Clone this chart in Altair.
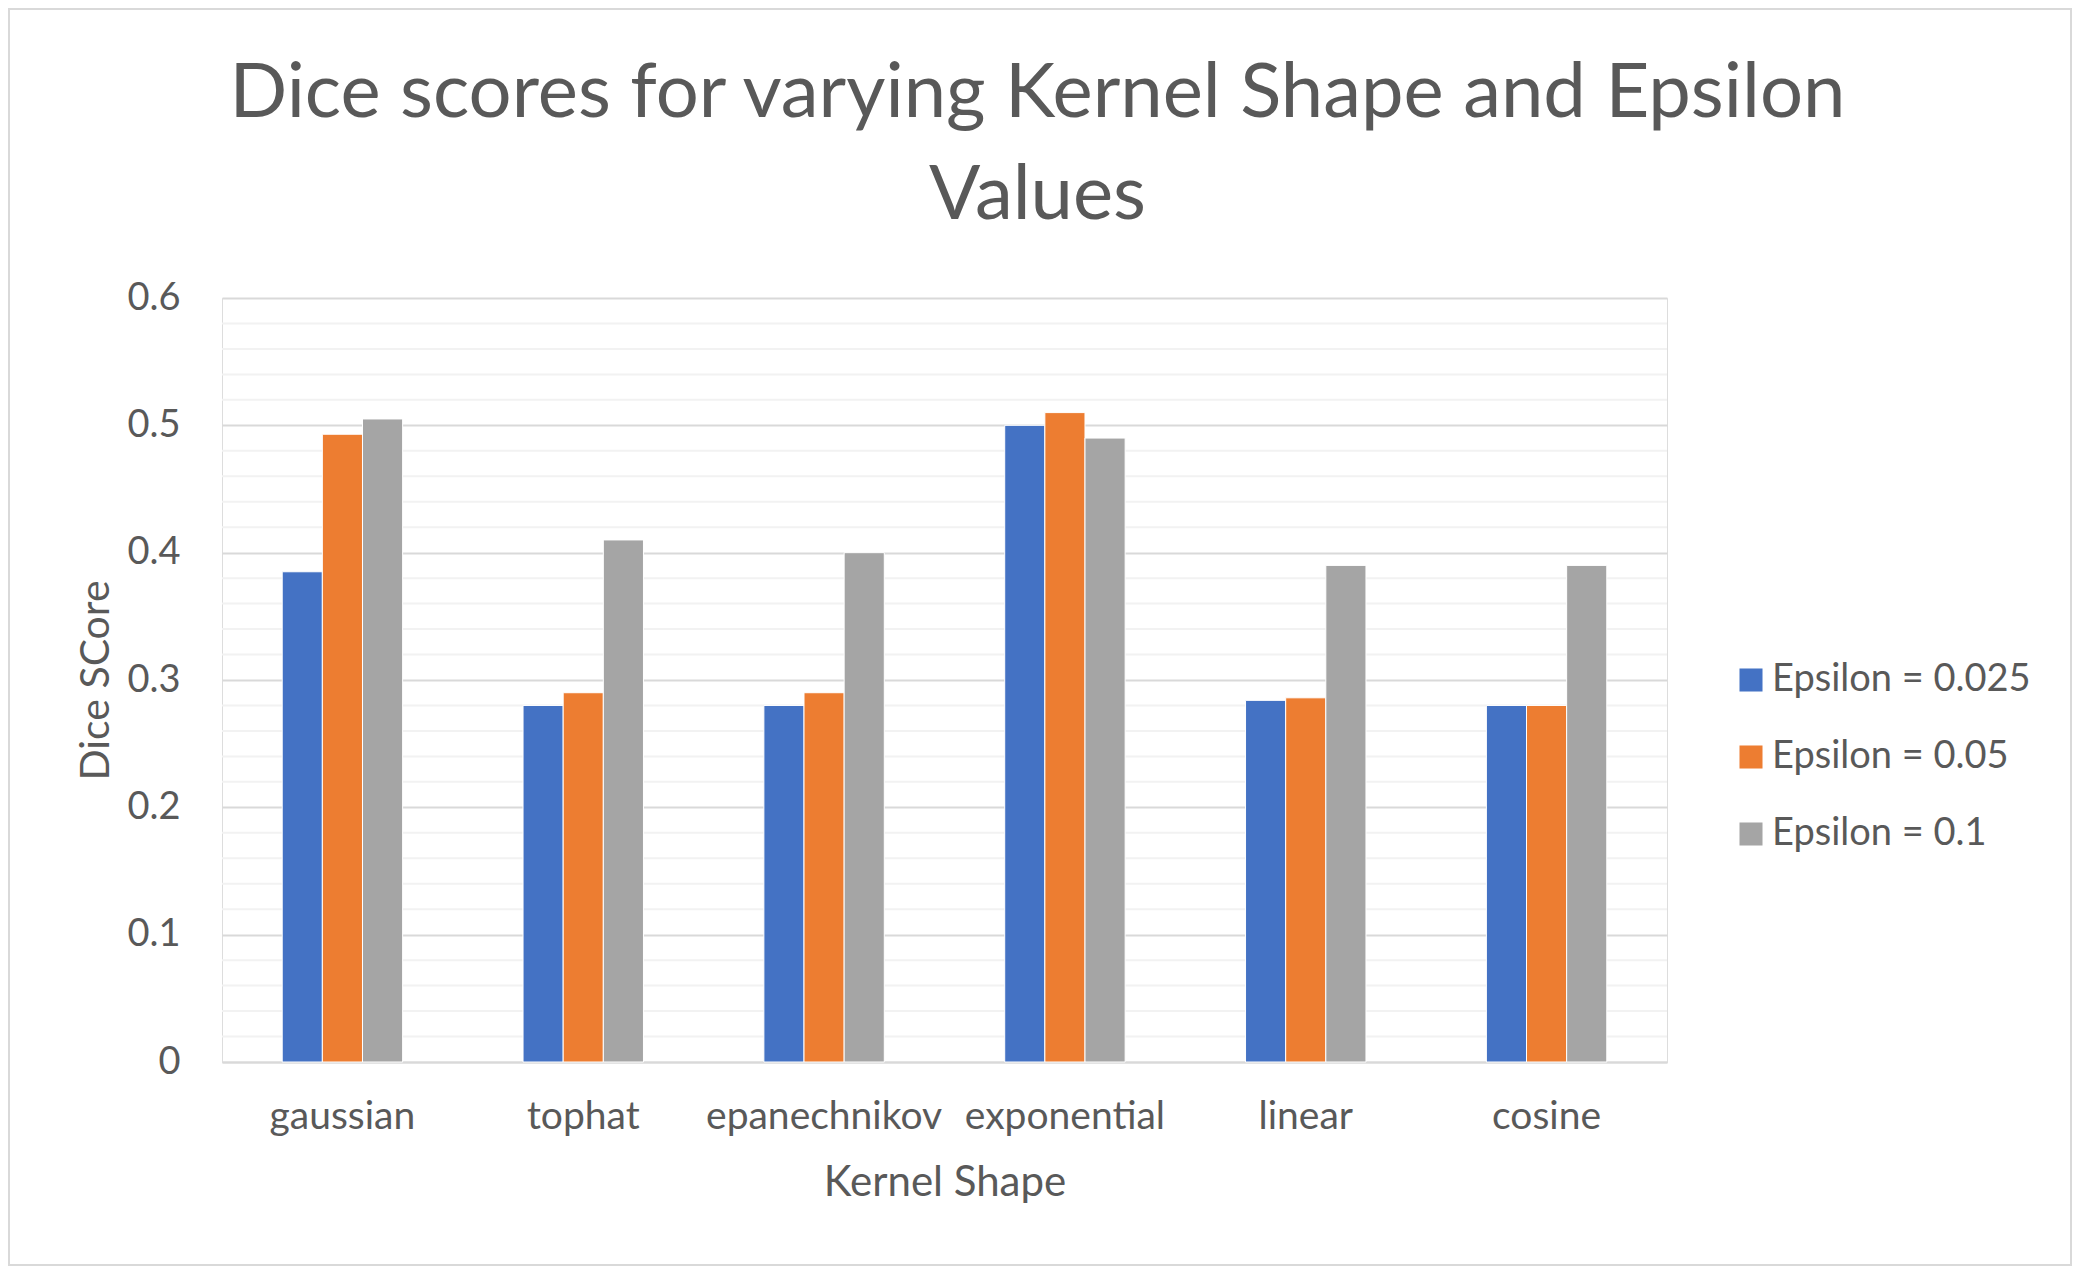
import altair as alt
import pandas as pd

kernels = ["gaussian", "tophat", "epanechnikov", "exponential", "linear", "cosine"]
series = ["Epsilon = 0.025", "Epsilon = 0.05", "Epsilon = 0.1"]
eps_0025 = [0.385, 0.280, 0.280, 0.500, 0.284, 0.280]
eps_005 = [0.493, 0.290, 0.290, 0.510, 0.286, 0.280]
eps_01 = [0.505, 0.410, 0.400, 0.490, 0.390, 0.390]
colors = ["#4472C4", "#ED7D31", "#A5A5A5"]
major_ticks = [0, 0.1, 0.2, 0.3, 0.4, 0.5, 0.6]
minor_ticks = [0.02, 0.04, 0.06, 0.08, 0.12, 0.14, 0.16, 0.18, 0.22, 0.24, 0.26, 0.28,
               0.32, 0.34, 0.36, 0.38, 0.42, 0.44, 0.46, 0.48, 0.52, 0.54, 0.56, 0.58]

rows = []
for s, vals in zip(series, [eps_0025, eps_005, eps_01]):
    for k, v in zip(kernels, vals):
        rows.append({"kernel": k, "series": s, "value": v})
df = pd.DataFrame(rows)
minor_df = pd.DataFrame({"value": minor_ticks})

FONT = "Lato"
TXT = "#595959"
W, H = 1445, 764
PL, PT = 214, 290
PR = 2064 - PL - W
PB = 1258 - PT - H

yscale = alt.Scale(domain=[0, 0.6], nice=False, zero=True)
yaxis = alt.Axis(
    values=major_ticks, format=".1~f", ticks=False, tickSize=0, labelPadding=42,
    labelFont=FONT, labelFontSize=38, labelColor=TXT,
    titleFont=FONT, titleFontSize=41, titleColor=TXT, titleFontWeight="normal",
    titleBaseline="alphabetic", titleX=-114, titleAngle=-90,
    domain=False, grid=True, gridColor="#D9D9D9", gridWidth=2,
)

frame = alt.Chart(alt.Data(values=[{}])).mark_rect(
    fill=None, stroke="#D9D9D9", strokeWidth=2
).encode(
    x=alt.value(-PL + 1), x2=alt.value(W + PR - 1),
    y=alt.value(-PT + 1), y2=alt.value(H + PB - 1),
)

minor = alt.Chart(minor_df).mark_rule(color="#F2F2F2", strokeWidth=2).encode(
    y=alt.Y("value:Q", scale=yscale, title="Dice SCore", axis=yaxis)
)

bars = alt.Chart(df).mark_bar(stroke="white", strokeWidth=1).encode(
    x=alt.X(
        "kernel:N", sort=kernels, title="Kernel Shape",
        scale=alt.Scale(paddingInner=0.5, paddingOuter=0.25),
        axis=alt.Axis(
            labelAngle=0, ticks=False, tickSize=0, labelPadding=35, labelLimit=0,
            labelFont=FONT, labelFontSize=39, labelColor=TXT,
            titleFont=FONT, titleFontSize=42, titleColor=TXT, titleFontWeight="normal",
            titleBaseline="alphabetic", titleY=133,
            domain=True, domainColor="#D9D9D9", domainWidth=2, grid=False,
        ),
    ),
    xOffset=alt.XOffset("series:N", sort=series,
                        scale=alt.Scale(paddingInner=0, paddingOuter=0)),
    y=alt.Y("value:Q", scale=yscale, title="Dice SCore", axis=yaxis),
    color=alt.Color(
        "series:N", sort=series,
        scale=alt.Scale(domain=series, range=colors),
        legend=alt.Legend(
            title=None, orient="none", legendX=1510, legendY=363,
            symbolType="square", symbolSize=530, symbolStrokeWidth=0,
            labelFont=FONT, labelFontSize=38, labelColor=TXT, labelOffset=2,
            labelLimit=0, rowPadding=39, padding=0,
        ),
    ),
)

chart = alt.layer(frame, minor, bars).properties(
    width=W, height=H, autosize="none",
    padding={"left": PL, "top": PT, "right": PR, "bottom": PB},
    title=alt.TitleParams(
        text=["Dice scores for varying Kernel Shape and Epsilon", "Values"],
        anchor="middle", frame="group", dx=93, dy=287, offset=0,
        baseline="alphabetic",
        font=FONT, fontSize=76, fontWeight="normal", color=TXT, lineHeight=102,
    ),
).configure_view(stroke=None).configure(background="white")

chart.save("out.html", embed_options={"renderer": "svg", "actions": False})
